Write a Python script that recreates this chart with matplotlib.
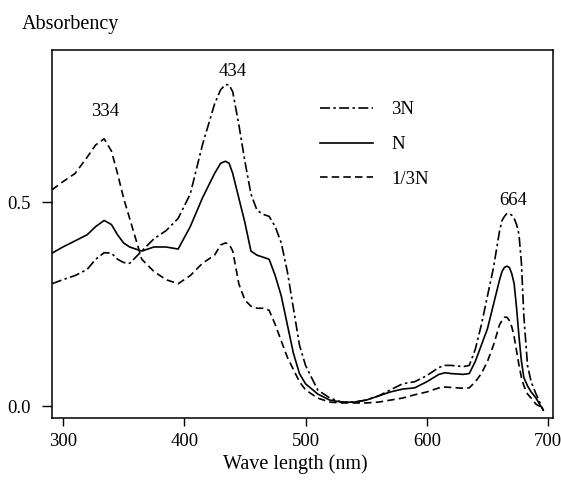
import matplotlib
matplotlib.use("Agg")
import matplotlib.pyplot as plt

plt.rcParams['font.family'] = ['Liberation Serif', 'DejaVu Serif']

wavelength = [291, 300, 310, 320, 327, 334, 340, 345, 350, 355, 365, 375, 385, 395, 405, 415, 420, 425,
              430, 434, 437, 440, 445, 450, 455, 460, 465, 470, 475, 480, 485, 490, 495, 500,
              510, 520, 530, 540, 550, 560, 570, 580, 590, 600, 610, 615, 620, 630,
              635, 640, 645, 650, 655, 660, 662, 664, 666, 668, 670, 672, 674, 676, 678, 680,
              683, 686, 690, 696]

abs_3n = [0.30, 0.31, 0.32, 0.335, 0.36, 0.376, 0.375, 0.36, 0.352, 0.35, 0.38, 0.41, 0.43, 0.46, 0.52, 0.64, 0.69, 0.74,
          0.775, 0.788, 0.787, 0.77, 0.69, 0.60, 0.52, 0.48, 0.47, 0.465, 0.44, 0.40, 0.33, 0.24, 0.15, 0.10,
          0.04, 0.02, 0.01, 0.01, 0.015, 0.025, 0.04, 0.055, 0.06, 0.075, 0.095, 0.10, 0.10, 0.097,
          0.10, 0.14, 0.20, 0.27, 0.34, 0.43, 0.455, 0.465, 0.472, 0.472, 0.468, 0.46, 0.445, 0.42, 0.35, 0.22,
          0.10, 0.06, 0.03, -0.01]

abs_n = [0.375, 0.39, 0.405, 0.42, 0.44, 0.455, 0.445, 0.42, 0.40, 0.39, 0.38, 0.39, 0.39, 0.385, 0.44, 0.51, 0.54, 0.57,
         0.595, 0.60, 0.595, 0.57, 0.51, 0.45, 0.38, 0.37, 0.365, 0.36, 0.32, 0.27, 0.20, 0.13, 0.08, 0.055,
         0.03, 0.015, 0.01, 0.01, 0.015, 0.025, 0.035, 0.042, 0.045, 0.06, 0.078, 0.082, 0.08, 0.078,
         0.08, 0.11, 0.15, 0.19, 0.25, 0.31, 0.33, 0.34, 0.343, 0.34, 0.325, 0.30, 0.24, 0.17, 0.11, 0.07,
         0.05, 0.035, 0.02, -0.01]

abs_third_n = [0.53, 0.55, 0.57, 0.61, 0.64, 0.655, 0.625, 0.57, 0.51, 0.46, 0.36, 0.33, 0.31, 0.30, 0.32, 0.35, 0.36, 0.37,
               0.395, 0.40, 0.397, 0.38, 0.30, 0.26, 0.245, 0.24, 0.24, 0.235, 0.20, 0.16, 0.12, 0.09, 0.06, 0.04,
               0.02, 0.01, 0.008, 0.008, 0.008, 0.01, 0.015, 0.02, 0.028, 0.035, 0.045, 0.047, 0.046, 0.044,
               0.045, 0.06, 0.08, 0.11, 0.15, 0.20, 0.21, 0.218, 0.218, 0.21, 0.195, 0.17, 0.135, 0.10, 0.07, 0.05,
               0.03, 0.02, 0.005, -0.005]

series_labels = ['3N', 'N', '1/3N']
peak_labels = ['334', '434', '664']
peak_label_pos = [(334.7, 0.723), (439.7, 0.821), (671.0, 0.503)]
x_ticks = [300, 400, 500, 600, 700]
y_ticks = [0.0, 0.5]
y_ticklabels = ['0.0', '0.5']

FS = 13.5

fig = plt.figure(figsize=(5.61, 4.93), dpi=100)
ax = fig.add_axes([0.0927, 0.152, 0.893, 0.747])

ax.plot(wavelength, abs_3n, color='black', lw=1.2, linestyle=(0, (6, 2, 1.5, 2)), label=series_labels[0])
ax.plot(wavelength, abs_n, color='black', lw=1.2, linestyle='-', label=series_labels[1])
ax.plot(wavelength, abs_third_n, color='black', lw=1.2, linestyle=(0, (4.5, 2.5)), label=series_labels[2])

ax.set_xlim(291, 704)
ax.set_ylim(-0.029, 0.873)
ax.set_xticks(x_ticks)
ax.set_yticks(y_ticks)
ax.set_yticklabels(y_ticklabels)
ax.tick_params(axis='y', direction='out', length=7, width=1, pad=8, labelsize=FS)
ax.tick_params(axis='x', direction='out', length=6, width=1, pad=5, labelsize=FS)
for s in ax.spines.values():
    s.set_linewidth(1.1)

for txt, (px, py) in zip(peak_labels, peak_label_pos):
    ax.text(px, py, txt, ha='center', va='center', fontsize=FS)

leg = ax.legend(loc='upper left', bbox_to_anchor=(320 / 561, 1 - 101 / 493),
                bbox_transform=fig.transFigure, frameon=False, fontsize=FS,
                handlelength=2.8, handletextpad=1.0, labelspacing=0.95,
                borderpad=0, borderaxespad=0)

fig.text(22 / 561, 1 - 25 / 493, 'Absorbency', ha='left', va='center', fontsize=14.5)
fig.text(295 / 561, 1 - 464 / 493, 'Wave length (nm)', ha='center', va='center', fontsize=14.5)

fig.savefig('out.png', dpi=100)
